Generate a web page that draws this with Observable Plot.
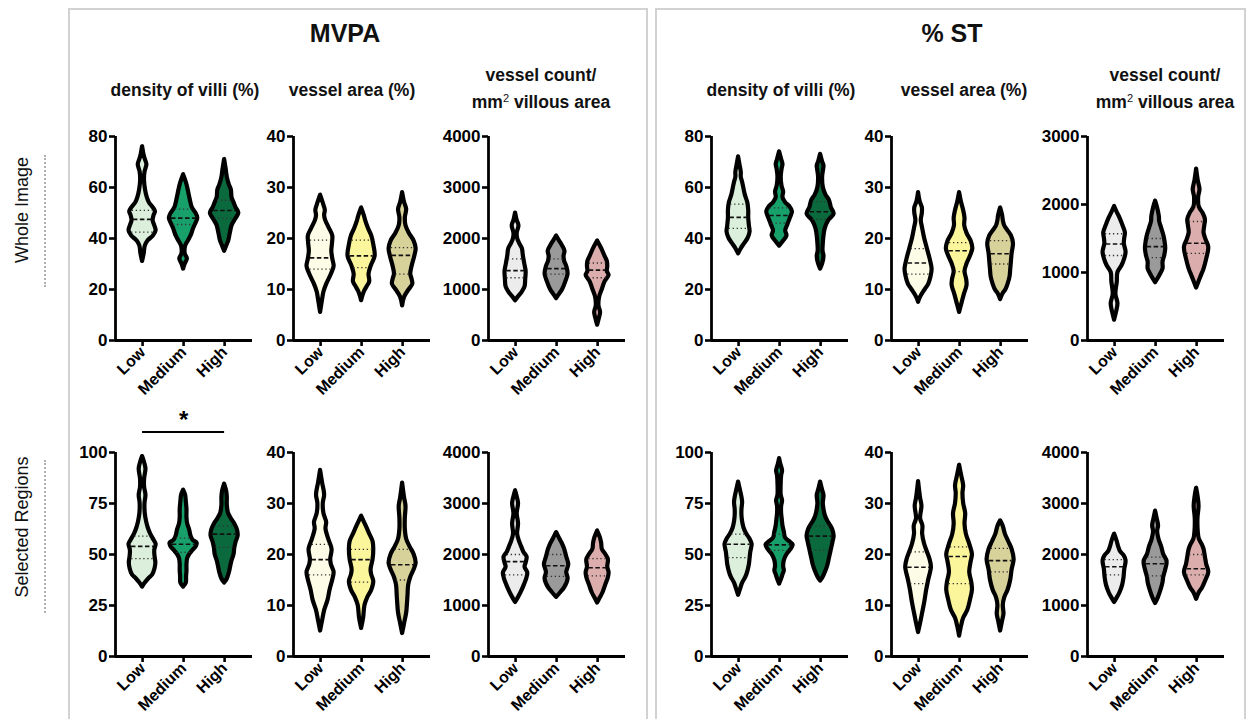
<!DOCTYPE html>
<html><head><meta charset="utf-8">
<script src="https://cdn.jsdelivr.net/npm/d3@7"></script>
<script src="https://cdn.jsdelivr.net/npm/@observablehq/plot@0.6"></script>
<style>
body{margin:0;background:#fff;font-family:"Liberation Sans",Arial,sans-serif;}
#page{position:relative;width:1252px;height:719px;overflow:hidden;background:#fff;}
.box{position:absolute;border:2px solid #d2d2d2;box-sizing:border-box;}
.t{position:absolute;transform:translate(-50%,-50%);white-space:nowrap;font-weight:bold;color:#111;text-align:center;}
.row{position:absolute;transform:translate(-50%,-50%) rotate(-90deg);white-space:nowrap;font-size:18px;color:#111;}
.dots{position:absolute;border-left:2px dotted #b0b0b0;width:0;}
.panel{position:absolute;}
</style></head><body><div id="page"></div>
<script>
// ---------- categories & labels ----------
const groups = ["Low", "Medium", "High"];
const sectionTitles = ["MVPA", "% ST"];
const rowLabels = ["Whole Image", "Selected Regions"];
const measureTitles = ["density of villi (%)", "vessel area (%)", "vessel count/<br>mm<sup style='font-size:11px;font-weight:normal'>2</sup> villous area"];

// ---------- tick values ----------
const villiTicksWhole = [0, 20, 40, 60, 80];
const villiTicksSel = [0, 25, 50, 75, 100];
const areaTicks = [0, 10, 20, 30, 40];
const countTicks4000 = [0, 1000, 2000, 3000, 4000];
const countTicks3000 = [0, 1000, 2000, 3000];

// ---------- violin outlines: [value, relative half-width] for Low, Medium, High ----------
const mvpaWholeVilli = [
  [[31,0],[34,0.12],[37,0.2],[39,0.4],[41,0.8],[43,1.0],[45,0.9],[47,0.78],[49,0.85],[50.5,0.95],[52,0.8],[54,0.5],[56,0.35],[59,0.22],[63,0.14],[66,0.18],[69,0.32],[71,0.2],[73,0.1],[76,0]],
  [[28,0],[30,0.12],[32,0.28],[34,0.12],[37,0.15],[39,0.35],[41,0.55],[44,0.75],[46,0.92],[48,1.05],[50,0.9],[52,0.65],[55,0.5],[57,0.42],[60,0.3],[62,0.2],[65,0]],
  [[35,0],[37,0.15],[39,0.3],[42,0.42],[45,0.55],[47,0.75],[50,1.05],[52,0.85],[54,0.7],[56,0.55],[59,0.5],[61,0.35],[64,0.2],[67,0.12],[71,0]]
];
const mvpaWholeVilliQ = [[42.5,47.5,51],[45.5,48,51.5],[48,51,55]];

const mvpaWholeArea = [
  [[5.5,0],[7.5,0.12],[9.5,0.25],[11,0.45],[13,0.8],[14.5,1.0],[16,0.9],[17.5,0.83],[19,0.88],[20.5,0.9],[22,0.65],[23.5,0.38],[24.5,0.3],[25.5,0.35],[26.5,0.25],[28.5,0]],
  [[7.8,0],[9.5,0.2],[10.5,0.4],[11.5,0.6],[13,0.55],[14.5,0.7],[16.5,1.0],[18.5,0.92],[20.5,0.75],[22,0.5],[23.5,0.3],[24.5,0.2],[26,0]],
  [[6.8,0],[8.5,0.15],[10,0.5],[11,0.75],[12,0.7],[13,0.6],[14.5,0.7],[16.5,0.9],[18,1.0],[19.5,0.85],[21,0.5],[22.5,0.25],[24,0.2],[25.7,0.3],[27,0.15],[29,0]]
];
const mvpaWholeAreaQ = [[14,16.2,19.7],[14.3,16.6,19.7],[13,16.7,18.2]];

const mvpaWholeCount = [
  [[780,0],[850,0.2],[950,0.5],[1050,0.7],[1200,0.75],[1350,0.78],[1500,0.68],[1650,0.58],[1800,0.5],[1900,0.3],[2000,0.15],[2100,0.12],[2250,0.25],[2350,0.12],[2500,0]],
  [[820,0],[900,0.2],[1000,0.45],[1150,0.68],[1300,0.85],[1450,0.75],[1550,0.6],[1650,0.55],[1750,0.62],[1850,0.45],[1950,0.22],[2050,0]],
  [[300,0],[420,0.12],[550,0.22],[680,0.1],[850,0.15],[1000,0.35],[1150,0.55],[1275,0.85],[1350,0.72],[1450,0.75],[1550,0.72],[1650,0.55],[1800,0.3],[1950,0]]
];
const mvpaWholeCountQ = [[1230,1370,1600],[1300,1410,1600],[1230,1380,1520]];

const stWholeVilli = [
  [[34,0],[36,0.2],[38,0.45],[40,0.7],[42.5,0.85],[45,0.8],[48,0.75],[51,0.75],[54,0.68],[57,0.5],[60,0.38],[62,0.3],[64,0.2],[66,0.2],[69,0.1],[72,0]],
  [[37,0],[39,0.3],[41,0.55],[43,0.45],[45.5,0.62],[48,0.8],[50.5,0.95],[52.5,0.75],[54,0.45],[56,0.25],[58.3,0.3],[60.5,0.18],[64,0.12],[67,0.18],[69,0.25],[71,0.15],[74,0]],
  [[28,0],[30,0.15],[33,0.25],[35,0.18],[38,0.2],[41,0.25],[44,0.35],[47,0.6],[49.5,1.0],[52,0.8],[55,0.65],[57,0.4],[60,0.2],[64,0.15],[67,0.22],[68.5,0.25],[70,0.15],[73,0]]
];
const stWholeVilliQ = [[44,48.3,53.5],[46,49,52],[47.5,50.5,54.5]];

const stWholeArea = [
  [[7.5,0],[8.5,0.15],[10,0.5],[11,0.75],[12.5,0.92],[14,1.0],[16,0.85],[18,0.65],[20,0.45],[22,0.3],[23.5,0.2],[25,0.28],[26,0.28],[27.2,0.12],[29,0]],
  [[5.5,0],[7,0.15],[9,0.35],[10.8,0.55],[12,0.52],[13.5,0.4],[15,0.55],[16.5,0.8],[18,0.98],[19.5,0.85],[21,0.55],[22.5,0.38],[24,0.4],[25.5,0.3],[27,0.15],[29,0]],
  [[8,0],[9,0.15],[10,0.4],[11,0.55],[12.5,0.7],[14,0.75],[15.5,0.8],[17,0.85],[19,0.95],[20.5,0.8],[21.5,0.55],[22.5,0.3],[23.5,0.2],[24.5,0.15],[26,0]]
];
const stWholeAreaQ = [[13,15.2,18],[13.5,17.6,19.2],[15,17,19.6]];

const stWholeCount = [
  [[300,0],[420,0.15],[540,0.25],[680,0.1],[860,0.2],[1000,0.25],[1100,0.55],[1200,0.75],[1300,0.85],[1420,0.72],[1500,0.75],[1580,0.8],[1700,0.6],[1800,0.4],[1880,0.2],[1970,0]],
  [[850,0],[950,0.3],[1050,0.55],[1150,0.55],[1250,0.68],[1350,0.75],[1450,0.7],[1550,0.6],[1650,0.45],[1750,0.3],[1820,0.28],[1950,0.15],[2050,0]],
  [[770,0],[850,0.15],[950,0.35],[1050,0.55],[1200,0.75],[1370,0.9],[1480,0.7],[1580,0.55],[1680,0.6],[1780,0.65],[1880,0.45],[1960,0.2],[2100,0.15],[2220,0.25],[2350,0.12],[2520,0]]
];
const stWholeCountQ = [[1250,1420,1570],[1220,1380,1500],[1280,1430,1750]];

const mvpaSelVilli = [
  [[34,0],[36,0.2],[38,0.45],[40,0.75],[43,0.92],[46,0.98],[49,0.92],[52,0.9],[55,1.0],[57,0.85],[60,0.6],[63,0.42],[66,0.3],[70,0.2],[75,0.18],[79,0.25],[83,0.15],[87,0.15],[92,0.25],[95,0.15],[98,0]],
  [[34,0],[36,0.2],[39,0.22],[42,0.25],[45,0.25],[48,0.3],[50,0.45],[52,0.7],[54,0.95],[55.5,1.0],[57,0.7],[59,0.55],[62,0.45],[65,0.3],[68,0.25],[72,0.25],[76,0.2],[79,0.15],[81.5,0]],
  [[36,0],[38,0.2],[41,0.35],[44,0.45],[47,0.55],[50,0.7],[53,0.75],[56,0.85],[59,1.0],[62,0.95],[65,0.75],[67,0.55],[70,0.3],[74,0.2],[78,0.2],[81,0.15],[84.5,0]]
];
const mvpaSelVilliQ = [[48,54,59],[51,55,58],[53.5,60,64]];

const mvpaSelArea = [
  [[5,0],[7,0.15],[9,0.3],[11,0.55],[13,0.7],[15,0.9],[16.5,1.0],[18,0.8],[19,0.75],[21,0.85],[23,0.6],[25,0.4],[26.3,0.45],[28,0.25],[30,0.2],[31.7,0.3],[34,0.15],[36.5,0]],
  [[5.5,0],[7.5,0.15],[10,0.25],[11.5,0.45],[13,0.75],[14.7,0.9],[16,0.75],[17,0.7],[19,0.85],[21,0.9],[22.5,0.85],[24,0.6],[25.5,0.35],[27.5,0]],
  [[4.5,0],[6.5,0.15],[8.5,0.3],[10,0.35],[12,0.4],[14,0.45],[15.5,0.6],[17,0.85],[18.3,1.0],[20,0.85],[21.5,0.55],[23,0.3],[25,0.2],[27,0.2],[29.5,0.25],[31,0.15],[34,0]]
];
const mvpaSelAreaQ = [[16,19,22],[14.6,19,21],[15,18,21]];

const mvpaSelCount = [
  [[1060,0],[1150,0.2],[1250,0.4],[1400,0.65],[1550,0.85],[1640,0.9],[1750,0.7],[1850,0.8],[1950,0.85],[2050,0.6],[2150,0.45],[2250,0.3],[2400,0.15],[2600,0.22],[2800,0.12],[3000,0.22],[3150,0.1],[3250,0]],
  [[1160,0],[1250,0.3],[1350,0.6],[1520,0.85],[1650,0.75],[1800,0.9],[1950,0.75],[2100,0.6],[2200,0.45],[2300,0.25],[2430,0]],
  [[1050,0],[1150,0.2],[1250,0.4],[1400,0.6],[1550,0.8],[1640,0.85],[1750,0.75],[1900,0.8],[2000,0.6],[2100,0.35],[2220,0.3],[2330,0.2],[2460,0]]
];
const mvpaSelCountQ = [[1600,1860,2000],[1570,1780,2000],[1580,1740,1920]];

const stSelVilli = [
  [[30,0],[33,0.15],[36,0.3],[39,0.55],[42,0.7],[45,0.8],[48,0.85],[51,0.9],[55,1.0],[57.5,0.85],[60,0.6],[63,0.4],[66,0.3],[69,0.25],[72,0.25],[75.5,0.3],[78,0.25],[82,0.12],[85.5,0]],
  [[35.5,0],[38,0.15],[40,0.25],[42,0.35],[44,0.3],[47,0.35],[50,0.55],[53,0.9],[54.7,1.0],[56,0.8],[58,0.45],[61,0.35],[64,0.25],[67,0.2],[70,0.15],[73.5,0.15],[76.3,0.22],[79,0.12],[85,0.12],[88.5,0.15],[91,0.22],[94,0.1],[97,0]],
  [[37,0],[39,0.2],[42,0.4],[45,0.55],[48,0.65],[51,0.75],[54,0.85],[57,0.95],[59,1.0],[62,0.9],[64,0.75],[66,0.55],[69,0.35],[72,0.25],[75,0.2],[79,0.25],[81.5,0.15],[85.5,0]]
];
const stSelVilliQ = [[48.5,55,60],[52,54.7,60],[52,59,64]];

const stSelArea = [
  [[4.7,0],[6.5,0.15],[8.5,0.3],[10.5,0.45],[13,0.6],[15,0.75],[17.5,0.95],[19,0.85],[20.5,0.65],[22,0.45],[24,0.3],[25.6,0.32],[27,0.15],[29.5,0.25],[31,0.15],[34.3,0]],
  [[4,0],[6,0.15],[7.5,0.3],[9,0.6],[11,0.8],[13,0.95],[14.5,0.9],[16.5,0.75],[18.5,0.85],[20,0.95],[22,0.75],[24,0.5],[26,0.4],[28,0.45],[30,0.3],[32,0.25],[33.5,0.3],[35.5,0.15],[37.5,0]],
  [[5,0],[7,0.15],[8.3,0.25],[10,0.2],[11.5,0.3],[13,0.55],[15,0.75],[17,0.85],[19,1.0],[21,0.85],[22.5,0.6],[24,0.35],[25.5,0.2],[26.6,0]]
];
const stSelAreaQ = [[14.3,17.5,20.5],[14.3,19.6,21.5],[16.6,18.8,21.2]];

const stSelCount = [
  [[1060,0],[1150,0.2],[1250,0.4],[1400,0.6],[1550,0.7],[1700,0.75],[1880,0.85],[1980,0.7],[2050,0.45],[2150,0.3],[2250,0.2],[2400,0]],
  [[1040,0],[1150,0.2],[1300,0.4],[1450,0.55],[1550,0.6],[1700,0.75],[1860,0.85],[2000,0.6],[2150,0.45],[2300,0.25],[2450,0.15],[2560,0.22],[2700,0.12],[2850,0]],
  [[1120,0],[1250,0.2],[1350,0.45],[1500,0.7],[1650,0.9],[1800,0.75],[1950,0.65],[2100,0.55],[2200,0.4],[2300,0.2],[2450,0.12],[2700,0.1],[2950,0.18],[3150,0.1],[3300,0]]
];
const stSelCountQ = [[1600,1760,1900],[1580,1820,1950],[1600,1720,2000]];

// significance annotation (MVPA, selected regions, density of villi)
const significance = [{from: "Low", to: "High", label: "*"}];

// ---------- colours ----------
const villiFills = ["#dcefdc", "#18a06b", "#0b6a3d"];
const areaFills = ["#fdfce6", "#fbf59c", "#d7d19a"];
const countFills = ["#ececec", "#9a9a9a", "#dcadad"];

// ---------- layout ----------
const ML = 52, MR = 6, MT = 40, MB = 70, PW = 137, PH = 204;
const XDOM = [-0.66, 2.68];
const K = 0.33;
const FONT = "'Liberation Sans', Arial, sans-serif";
const rowTop = [136, 452];
const axisX = [[115, 293, 488], [711, 891, 1087]];

const panels = [
  {sec:0,row:0,col:0,shape:mvpaWholeVilli,q:mvpaWholeVilliQ,ticks:villiTicksWhole,fills:villiFills},
  {sec:0,row:0,col:1,shape:mvpaWholeArea,q:mvpaWholeAreaQ,ticks:areaTicks,fills:areaFills},
  {sec:0,row:0,col:2,shape:mvpaWholeCount,q:mvpaWholeCountQ,ticks:countTicks4000,fills:countFills},
  {sec:1,row:0,col:0,shape:stWholeVilli,q:stWholeVilliQ,ticks:villiTicksWhole,fills:villiFills},
  {sec:1,row:0,col:1,shape:stWholeArea,q:stWholeAreaQ,ticks:areaTicks,fills:areaFills},
  {sec:1,row:0,col:2,shape:stWholeCount,q:stWholeCountQ,ticks:countTicks3000,fills:countFills},
  {sec:0,row:1,col:0,shape:mvpaSelVilli,q:mvpaSelVilliQ,ticks:villiTicksSel,fills:villiFills,sig:significance},
  {sec:0,row:1,col:1,shape:mvpaSelArea,q:mvpaSelAreaQ,ticks:areaTicks,fills:areaFills},
  {sec:0,row:1,col:2,shape:mvpaSelCount,q:mvpaSelCountQ,ticks:countTicks4000,fills:countFills},
  {sec:1,row:1,col:0,shape:stSelVilli,q:stSelVilliQ,ticks:villiTicksSel,fills:villiFills},
  {sec:1,row:1,col:1,shape:stSelArea,q:stSelAreaQ,ticks:areaTicks,fills:areaFills},
  {sec:1,row:1,col:2,shape:stSelCount,q:stSelCountQ,ticks:countTicks4000,fills:countFills}
];

function widthAt(profile, v) {
  for (let i = 1; i < profile.length; i++) {
    const [v0, w0] = profile[i - 1], [v1, w1] = profile[i];
    if (v >= v0 && v <= v1) return w0 + (w1 - w0) * (v - v0) / (v1 - v0);
  }
  return 0;
}

function violinPanel(p) {
  const max = p.ticks[p.ticks.length - 1];
  const marks = [];
  p.shape.forEach((prof, i) => {
    const rows = prof.map(([v, w]) => ({v, w}));
    marks.push(Plot.areaX(rows, {
      y: "v", x1: d => i - d.w * K, x2: d => i + d.w * K,
      fill: p.fills[i], stroke: "#000", strokeWidth: 4.2, strokeLinejoin: "round",
      curve: "catmull-rom"
    }));
  });
  const med = [], quart = [];
  p.q.forEach((qs, i) => qs.forEach((v, j) => {
    const w = widthAt(p.shape[i], v) * K * 0.85;
    (j === 1 ? med : quart).push({g: i, v, w});
  }));
  marks.push(Plot.ruleY(quart, {y: "v", x1: d => d.g - d.w, x2: d => d.g + d.w, stroke: "#333", strokeWidth: 1.3, strokeDasharray: "1.3,2.7"}));
  marks.push(Plot.ruleY(med, {y: "v", x1: d => d.g - d.w, x2: d => d.g + d.w, stroke: "#111", strokeWidth: 1.6, strokeDasharray: "4.5,2.5"}));
  marks.push(Plot.ruleX([XDOM[0]], {y1: 0, y2: max, stroke: "#000", strokeWidth: 2.8}));
  marks.push(Plot.ruleY([0], {x1: XDOM[0], x2: XDOM[1], stroke: "#000", strokeWidth: 2.8}));
  marks.push(Plot.axisY({ticks: p.ticks, tickFormat: d3.format("d"), tickSize: 6, tickPadding: 2, strokeWidth: 2.6, label: null, fontSize: 17, fontWeight: "bold"}));
  marks.push(Plot.axisX({ticks: [0, 1, 2], tickFormat: i => groups[i], tickRotate: -45, tickSize: 6, tickPadding: 3, strokeWidth: 2.6, label: null, fontSize: 16, fontWeight: "bold"}));
  if (p.sig) {
    p.sig.forEach(s => {
      const a = groups.indexOf(s.from), b = groups.indexOf(s.to);
      marks.push(Plot.ruleY([max * 1.1], {x1: a, x2: b, stroke: "#000", strokeWidth: 2}));
      marks.push(Plot.text([s.label], {x: (a + b) / 2, y: max * 1.1, dy: -12, text: d => d, fontSize: 24, fontWeight: "bold"}));
    });
  }
  return Plot.plot({
    width: ML + PW + MR, height: MT + PH + MB,
    marginLeft: ML, marginRight: MR, marginTop: MT, marginBottom: MB,
    x: {domain: XDOM, axis: null, label: null},
    y: {domain: [0, max], axis: null, label: null},
    style: {background: "none", fontFamily: FONT, fontWeight: "bold", fontSize: "16px", color: "#000", overflow: "visible"},
    marks
  });
}

const page = document.getElementById("page");
function el(cls, css, html) {
  const d = document.createElement("div");
  d.className = cls; Object.assign(d.style, css); if (html != null) d.innerHTML = html;
  page.appendChild(d); return d;
}

// section boxes
el("box", {left: "68px", top: "8px", width: "580px", height: "730px"});
el("box", {left: "655px", top: "8px", width: "591px", height: "730px"});

// section titles
el("t", {left: "345px", top: "33px", fontSize: "25px"}, sectionTitles[0]);
el("t", {left: "952px", top: "33px", fontSize: "25px"}, sectionTitles[1]);

// measure titles
const titleCenters = [[185, 352, 541], [781, 964, 1165]];
[0, 1].forEach(s => measureTitles.forEach((t, c) => {
  el("t", {left: titleCenters[s][c] + "px", top: (c === 2 ? 89 : 90) + "px", fontSize: "17.5px", lineHeight: "23px"}, t);
}));

// row labels
el("row", {left: "22px", top: "210px"}, rowLabels[0]);
el("dots", {left: "44px", top: "155px", height: "132px"});
el("row", {left: "22px", top: "527px"}, rowLabels[1]);
el("dots", {left: "44px", top: "460px", height: "153px"});

// panels
panels.forEach(p => {
  const svg = violinPanel(p);
  const wrap = el("panel", {left: (axisX[p.sec][p.col] - ML) + "px", top: (rowTop[p.row] - MT) + "px"});
  wrap.appendChild(svg);
});
</script>
</body></html>
